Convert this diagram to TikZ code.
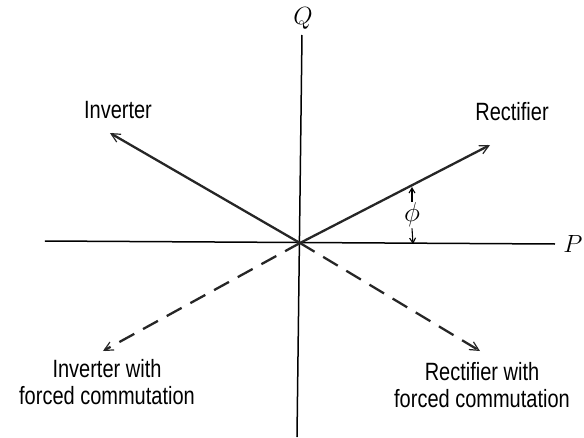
\documentclass[tikz,border=0pt]{standalone}
\usepackage{graphicx}
\usepackage{fontspec}
\setmainfont{Liberation Sans}
\newfontfamily\labelfont[FakeStretch=0.8]{Liberation Sans}
\usepackage{tikz}
\usetikzlibrary{arrows.meta}
\tikzset{
  axisline/.style ={line width=1.5pt, color=black},
  phasor/.style   ={-{Straight Barb[length=9pt, width=9pt, line width=1.2pt]}, line width=2.3pt, color=black!85},
  forcedphasor/.style={phasor, dash pattern=on 17pt off 10pt},
  plbl/.style     ={font=\labelfont\fontsize{25}{27}\selectfont, align=center, inner sep=0pt},
  axlbl/.style    ={font=\fontsize{25}{27}\selectfont, inner sep=0pt},
  anglearr/.style ={-{Straight Barb[length=5pt, width=6pt]}, line width=1.1pt},
}

\begin{document}
\begin{tikzpicture}[x=1pt, y=1pt]
  \useasboundingbox (-300,-194) rectangle (284,243);
  % axes
  \coordinate (o) at (0,0);
  \coordinate (qtop) at (2,208);
  \coordinate (qbot) at (-3,-194);
  \coordinate (pleft) at (-255,2);
  \coordinate (pright) at (255,-1);
  \draw[axisline] (qbot) -- (qtop);
  \draw[axisline] (pleft) -- (pright);
  \node[axlbl] (qlbl) at (3,225) {$Q$};
  \node[axlbl] (plbl) at (273,-1) {$P$};
  % operating regions
  \coordinate (rect) at (190,98);
  \coordinate (inv) at (-190,110);
  \coordinate (invf) at (-197,-108);
  \coordinate (rectf) at (180,-108);
  \draw[phasor] (o) -- (rect);
  \draw[phasor] (o) -- (inv);
  \draw[forcedphasor] (o) -- (invf);
  \draw[forcedphasor] (o) -- (rectf);
  \node[plbl] (rectlbl) at (212,131) {Rectifier};
  \node[plbl] (invlbl) at (-182,133) {Inverter};
  \node[plbl] (invflbl) at (-193,-139) {Inverter with\\forced commutation};
  \node[plbl] (rectflbl) at (182,-142) {Rectifier with\\forced commutation};
  % angle
  \node[axlbl] (phi) at (112,28) {\scalebox{1.1}{$\phi$}};
  \coordinate (phitop) at (112,56);
  \coordinate (phibot) at (113,-1);
  \draw[anglearr] ([yshift=1pt]phi.north) -- (phitop);
  \draw[anglearr] ([yshift=-1pt]phi.south) -- (phibot);
\end{tikzpicture}
\end{document}
